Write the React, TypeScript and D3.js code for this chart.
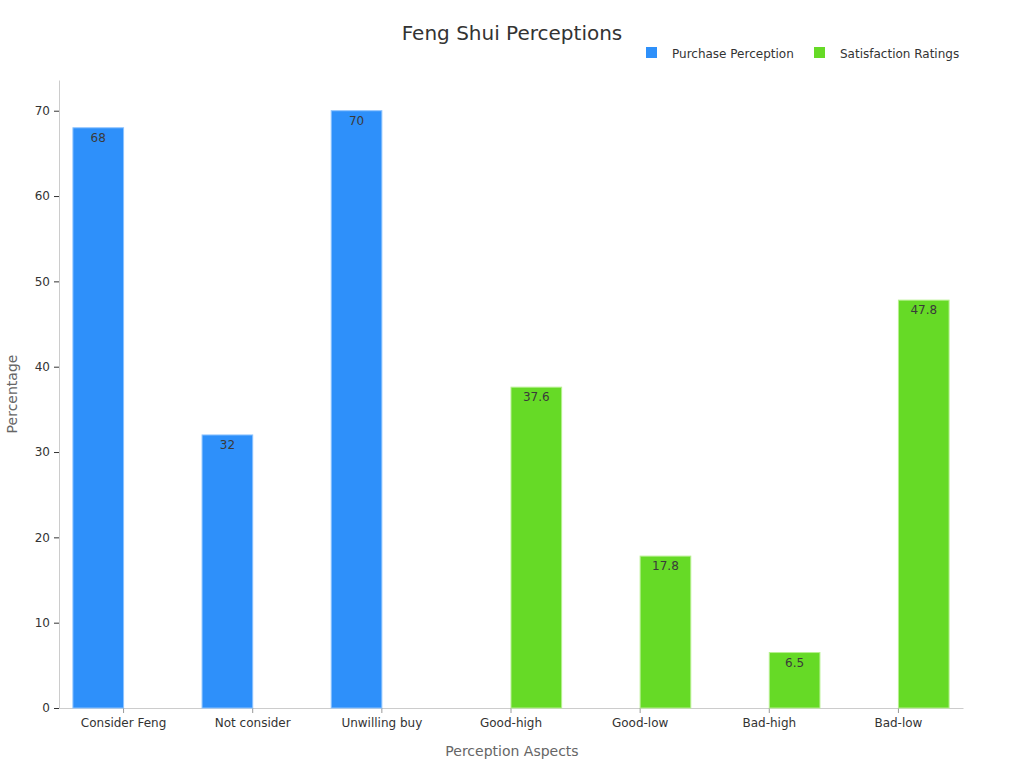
import React, { useEffect, useRef } from "react";
import { select, scaleBand, scaleLinear, axisBottom, axisLeft } from "d3";

const categories: string[] = [
  "Consider Feng",
  "Not consider",
  "Unwilling buy",
  "Good-high",
  "Good-low",
  "Bad-high",
  "Bad-low",
];
const seriesNames: string[] = ["Purchase Perception", "Satisfaction Ratings"];
const purchaseValues: (number | null)[] = [68, 32, 70, null, null, null, null];
const satisfactionValues: (number | null)[] = [null, null, null, 37.6, 17.8, 6.5, 47.8];
const yTicks: number[] = [0, 10, 20, 30, 40, 50, 60, 70];
const colors: string[] = ["#2E90FA", "#66DA26"];
const strokes: string[] = ["#8CC3FF", "#B6F08F"];

const WIDTH = 1024;
const HEIGHT = 768;
const FONT = "DejaVu Sans, sans-serif";

const App: React.FC = () => {
  const svgRef = useRef<SVGSVGElement>(null);

  useEffect(() => {
    const svg = select(svgRef.current);
    svg.selectAll("*").remove();
    const margin = { left: 59, right: 61, top: 80, bottom: 60 };
    const plotW = WIDTH - margin.left - margin.right;

    const x = scaleBand<string>()
      .domain(categories)
      .range([margin.left, margin.left + plotW])
      .paddingInner(0)
      .paddingOuter(0);
    const inner = scaleBand<string>()
      .domain(seriesNames)
      .range([0, x.bandwidth()])
      .paddingInner(0)
      .paddingOuter(0.275);
    const y = scaleLinear().domain([0, 73.6]).range([708, 80]);

    svg
      .append("text")
      .attr("x", 512)
      .attr("y", 40)
      .attr("text-anchor", "middle")
      .style("font-family", FONT)
      .style("font-size", "20px")
      .style("fill", "#333")
      .text("Feng Shui Perceptions");

    // legend
    const legendX = [646, 814];
    seriesNames.forEach((name, i) => {
      const g = svg.append("g").attr("transform", `translate(${legendX[i]},47)`);
      g.append("rect").attr("width", 11).attr("height", 11).attr("fill", colors[i]);
      g.append("text")
        .attr("x", 26)
        .attr("y", 11)
        .style("font-family", FONT)
        .style("font-size", "12px")
        .style("fill", "#333")
        .text(name);
    });

    // y axis
    const yAxis = svg
      .append("g")
      .attr("transform", `translate(${margin.left},0)`)
      .call(axisLeft(y).tickValues(yTicks).tickSize(5).tickSizeOuter(0).tickPadding(4));
    yAxis.select(".domain").attr("stroke", "#ccc");
    yAxis.selectAll(".tick line").attr("stroke", "#333");
    yAxis
      .selectAll(".tick text")
      .style("font-family", FONT)
      .style("font-size", "12px")
      .attr("fill", "#333");

    // x axis
    const xAxis = svg
      .append("g")
      .attr("transform", `translate(0,${y(0)})`)
      .call(axisBottom(x).tickSize(5).tickPadding(5).tickSizeOuter(0));
    xAxis.select(".domain").attr("stroke", "#ccc");
    xAxis.selectAll(".tick line").attr("stroke", "#999");
    xAxis
      .selectAll(".tick text")
      .style("font-family", FONT)
      .style("font-size", "12px")
      .attr("fill", "#333");

    // bars
    const seriesData = [purchaseValues, satisfactionValues];
    seriesData.forEach((vals, si) => {
      const data = categories
        .map((c, i) => ({ c, v: vals[i] }))
        .filter((d) => d.v !== null) as { c: string; v: number }[];
      const g = svg.append("g");
      g.selectAll("rect")
        .data(data)
        .join("rect")
        .attr("x", (d) => (x(d.c) as number) + (inner(seriesNames[si]) as number))
        .attr("y", (d) => y(d.v))
        .attr("width", inner.bandwidth())
        .attr("height", (d) => y(0) - y(d.v))
        .attr("fill", colors[si])
        .attr("stroke", strokes[si])
        .attr("stroke-width", 1);
      g.selectAll("text")
        .data(data)
        .join("text")
        .attr("x", (d) => (x(d.c) as number) + (inner(seriesNames[si]) as number) + inner.bandwidth() / 2)
        .attr("y", (d) => y(d.v) + 14)
        .attr("text-anchor", "middle")
        .style("font-family", FONT)
        .style("font-size", "12px")
        .style("fill", "#3a3a3a")
        .text((d) => String(d.v));
    });

    // axis titles
    svg
      .append("text")
      .attr("x", 512)
      .attr("y", 756)
      .attr("text-anchor", "middle")
      .style("font-family", FONT)
      .style("font-size", "14px")
      .style("fill", "#666")
      .text("Perception Aspects");
    svg
      .append("text")
      .attr("transform", `translate(17,394) rotate(-90)`)
      .attr("text-anchor", "middle")
      .style("font-family", FONT)
      .style("font-size", "14px")
      .style("fill", "#666")
      .text("Percentage");
  }, []);

  return (
    <svg
      ref={svgRef}
      width={WIDTH}
      height={HEIGHT}
      style={{ position: "absolute", left: 0, top: 0, background: "#fff" }}
    />
  );
};

export default App;
